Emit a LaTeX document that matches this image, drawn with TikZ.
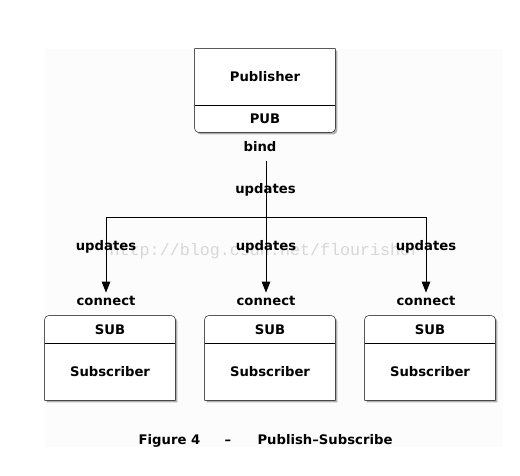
\documentclass[tikz,border=0pt]{standalone}
\usepackage{fontspec}
\setmainfont{DejaVu Sans}
\newfontfamily\markfont{Liberation Mono}
\usetikzlibrary{positioning, calc, backgrounds, shadows, arrows.meta}
\definecolor{grey252}{RGB}{252,252,252}
\definecolor{grey215}{RGB}{215,215,215}

\begin{document}
\begin{tikzpicture}[
          x = 1pt, y = -1pt,
          font = \fontsize{13.2}{15}\selectfont\bfseries,
          line width = 0.8pt,
          edge/.style = {-{Triangle[width=8.5pt, length=11pt]}}
        ]
          \tikzstyle {part} = [inner sep = 0, text height = 9.5pt, text depth = 0pt]
          \tikzstyle {tag} = [inner sep = 3pt, text height = 9.5pt, text depth = 2.5pt, anchor = base]
          \tikzstyle {outline} = [draw, fill = white, drop shadow = {shadow xshift = 2pt, shadow yshift = -2pt, fill = gray!75, opacity = 0.8}]
          \useasboundingbox (0,0) rectangle (520,476);
          % place nodes
          \path node (pub) [part, minimum width = 140pt, minimum height = 56pt] at (265,77) {Publisher};
          \path node (pubport) [part, minimum width = 140pt, minimum height = 27pt] at (265,118.5) {PUB};
          \path node (bind) [tag] at (260,152) {bind};
          \path node (upd) [tag] at (265.5,193.5) {updates};
          \coordinate (top) at (266,161);
          \coordinate (fork) at (266,217);
          \foreach \i/\x in {1/106, 2/266, 3/426}
            { \path node (updl\i) [tag] at (\x,251) {updates};
              \path node (conn\i) [tag] at (\x,305.5) {connect};
              \path node (subport\i) [part, minimum width = 130pt, minimum height = 27pt] at (\x + 4,329.5) {SUB};
              \path node (sub\i) [part, minimum width = 130pt, minimum height = 57pt] at (\x + 4,371.5) {Subscriber}; } ;
          \path node (cap1) [tag] at (169.5,444) {Figure 4};
          \path node (cap2) [tag] at (228,444) {–};
          \path node (cap3) [tag] at (325,444) {Publish–Subscribe};
          % place edges
          \draw [edge] (top) -- (conn2);
          \foreach \i in {1, 3}
            { \draw [edge] (fork) -| (conn\i) ; } ;
          \begin{scope}[on background layer]
            \fill [grey252] (45,49) rectangle (503,447);
            \path [outline] (pub.north west) -- (pub.north east) [rounded corners = 4pt] -- (pubport.south east) -- (pubport.south west) [sharp corners] -- cycle;
            \draw (pub.south west) -- (pub.south east);
            \foreach \i in {1, 2, 3}
              { \path [outline] (sub\i.south west) -- (sub\i.south east) [rounded corners = 4pt] -- (subport\i.north east) -- (subport\i.north west) [sharp corners] -- cycle;
                \draw (subport\i.south west) -- (subport\i.south east); } ;
            \node (mark) [text = grey215, font = \markfont\mdseries\fontsize{16.7}{18}\selectfont, anchor = base] at (265,255) {http://blog.csdn.net/flourisher};
          \end{scope}
        \end{tikzpicture}
\end{document}
